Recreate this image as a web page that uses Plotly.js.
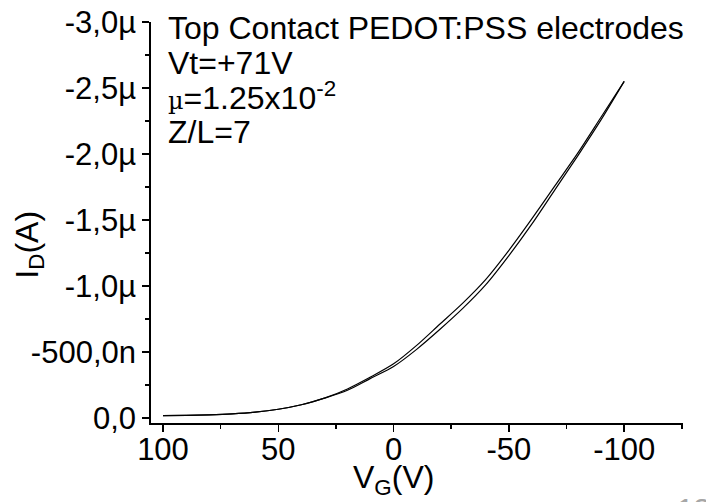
<!DOCTYPE html>
<html>
<head>
<meta charset="utf-8">
<script src="https://cdn.plot.ly/plotly-3.0.1.min.js"></script>
<style>html,body{margin:0;padding:0;background:#fff;}#chart{width:706px;height:502px;}</style>
</head>
<body>
<div id="chart"></div>
<script>
// Gate voltage (V) and drain current (µA)
const vgForward = [100, 90, 80, 70, 60, 50, 40, 30, 20, 10, 0, -10, -20, -30, -40, -50, -60, -70, -80, -90, -100];
const idForward = [0.018, 0.020, 0.024, 0.031, 0.044, 0.066, 0.10, 0.15, 0.22, 0.31, 0.41, 0.55, 0.71, 0.87, 1.05, 1.27, 1.51, 1.76, 2.01, 2.28, 2.55];
const vgReverse = [-100, -90, -80, -70, -60, -50, -40, -30, -20, -10, 0, 10, 20, 30, 40, 50, 60, 70, 80, 90, 100];
const idReverse = [2.55, 2.26, 1.99, 1.73, 1.47, 1.23, 1.01, 0.83, 0.67, 0.52, 0.39, 0.30, 0.21, 0.15, 0.10, 0.066, 0.044, 0.031, 0.024, 0.020, 0.018];

const yTickVals = [0, -0.5, -1.0, -1.5, -2.0, -2.5, -3.0];
const yTickText = ['0,0', '-500,0n', '-1,0µ', '-1,5µ', '-2,0µ', '-2,5µ', '-3,0µ'];
const xTickVals = [100, 50, 0, -50, -100];
const xTickText = ['100', '50', '0', '-50', '-100'];

const toAmps = arr => arr.map(v => -v * 1e-6);

const traces = [
  {x: vgForward, y: toAmps(idForward), mode: 'lines', line: {color: '#000', width: 1.2, shape: 'spline', smoothing: 0.8}, showlegend: false, hoverinfo: 'skip'},
  {x: vgReverse, y: toAmps(idReverse), mode: 'lines', line: {color: '#000', width: 1.2, shape: 'spline', smoothing: 0.8}, showlegend: false, hoverinfo: 'skip'}
];

const FAM = '"Liberation Sans", Arial, sans-serif';
const font = {family: FAM, size: 32, color: '#000'};
const tickFont = {family: FAM, size: 31, color: '#000'};

const layout = {
  width: 706, height: 502,
  margin: {l: 151, r: 23, t: 22, b: 79, pad: 0},
  paper_bgcolor: '#fff', plot_bgcolor: '#fff',
  font: font,
  showlegend: false,
  xaxis: {
    range: [105.2, -125.5], autorange: false,
    tickmode: 'array', tickvals: xTickVals, ticktext: xTickText,
    ticks: 'outside', ticklen: 7, tickwidth: 1.5, tickcolor: '#000',
    ticklabelstandoff: -9,
    showline: true, linecolor: '#000', linewidth: 1.8,
    showgrid: false, zeroline: false,
    tickfont: tickFont,
    minor: {tickmode: 'linear', tick0: 0, dtick: 25, ticks: 'outside', ticklen: 4, tickwidth: 1.5, tickcolor: '#000', showgrid: false}
  },
  yaxis: {
    range: [0.038e-6, -3.0e-6], autorange: false,
    tickmode: 'array', tickvals: yTickVals.map(v => v * 1e-6), ticktext: yTickText,
    ticks: 'outside', ticklen: 7, tickwidth: 1.5, tickcolor: '#000',
    showline: true, linecolor: '#000', linewidth: 1.8,
    showgrid: false, zeroline: false,
    tickfont: tickFont,
    minor: {tickmode: 'linear', tick0: 0, dtick: 0.25e-6, ticks: 'outside', ticklen: 4, tickwidth: 1.5, tickcolor: '#000', showgrid: false}
  },
  annotations: [
    {xref: 'paper', yref: 'paper', x: 0.028, y: 0.985, xanchor: 'left', yanchor: 'middle', showarrow: false, text: 'Top Contact PEDOT:PSS electrodes', font: font},
    {xref: 'paper', yref: 'paper', x: 0.028, y: 0.898, xanchor: 'left', yanchor: 'middle', showarrow: false, text: 'Vt=+71V', font: font},
    {xref: 'paper', yref: 'paper', x: 0.028, y: 0.815, xanchor: 'left', yanchor: 'middle', showarrow: false, text: '<span style="font-family:\'DejaVu Serif\',serif;font-size:24px">µ</span>=1.25x10<sup>-2</sup>', font: font},
    {xref: 'paper', yref: 'paper', x: 0.028, y: 0.726, xanchor: 'left', yanchor: 'middle', showarrow: false, text: 'Z/L=7', font: font},
    {xref: 'paper', yref: 'paper', x: 0.455, y: -0.084, xanchor: 'center', yanchor: 'top', showarrow: false, text: 'V<sub>G</sub>(V)', font: font},
    {xref: 'paper', yref: 'paper', x: -0.228, y: 0.444, xanchor: 'center', yanchor: 'middle', textangle: -90, showarrow: false, text: 'I<sub>D</sub>(A)', font: font},
    {xref: 'paper', yref: 'paper', x: 1.02, y: -0.168, xanchor: 'center', yanchor: 'top', showarrow: false, text: '13', font: {family: FAM, size: 30, color: '#a6a6a6'}}
  ]
};

Plotly.newPlot('chart', traces, layout, {staticPlot: true, displayModeBar: false});
</script>
</body>
</html>
